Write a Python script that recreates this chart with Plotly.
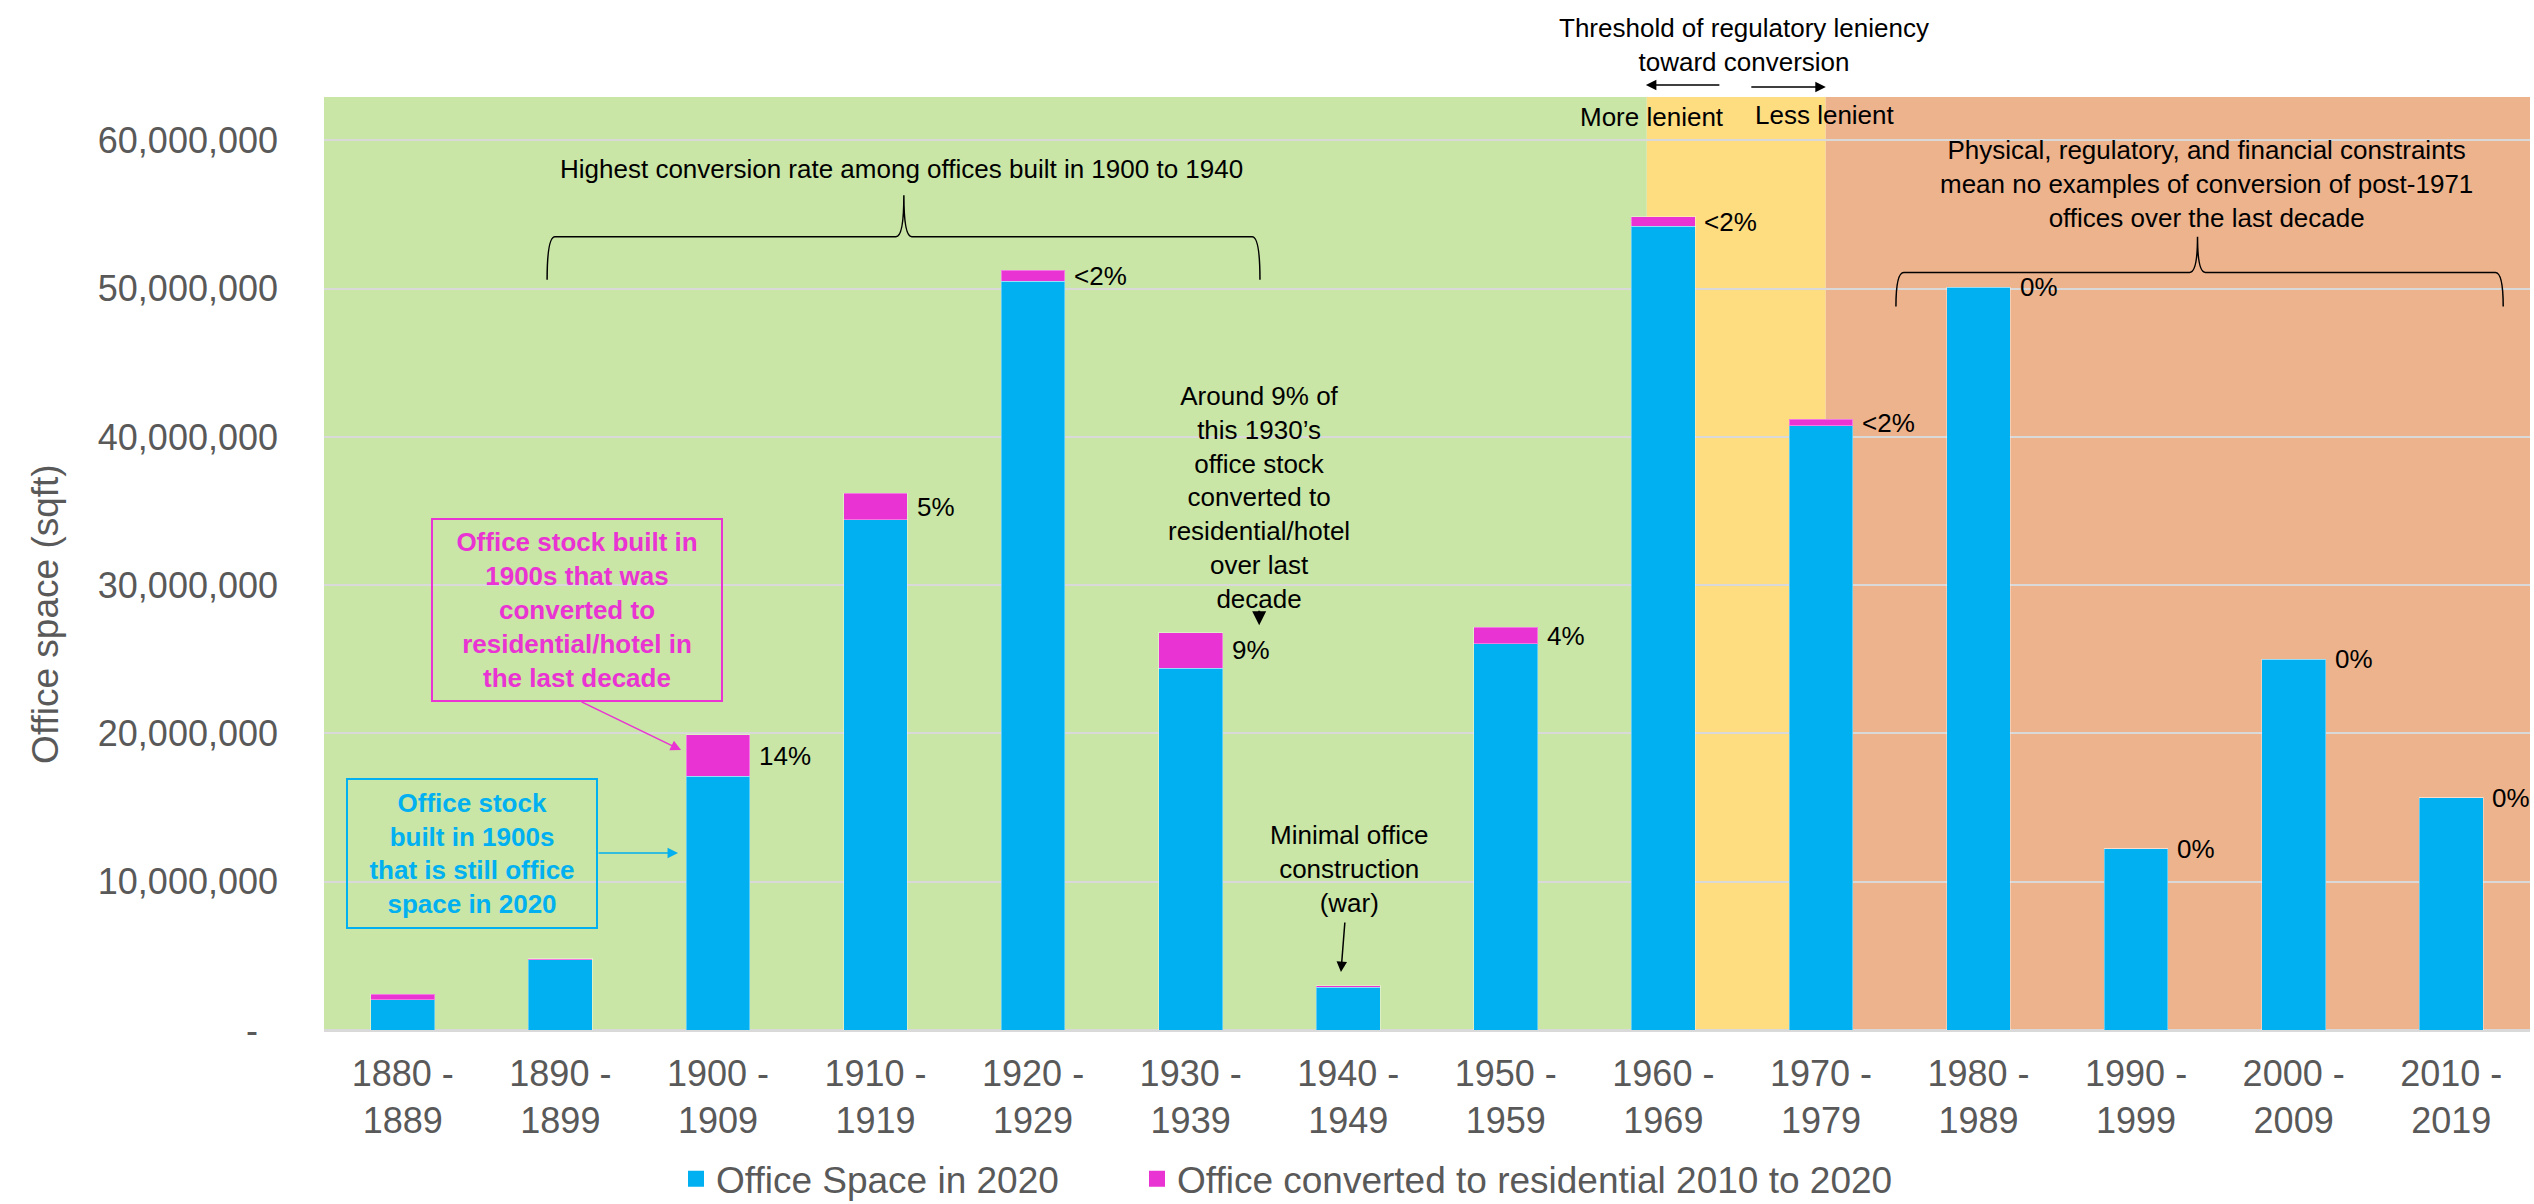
import plotly.graph_objects as go

# ---------------- data ----------------
start_years = ["1880", "1890", "1900", "1910", "1920", "1930", "1940",
               "1950", "1960", "1970", "1980", "1990", "2000", "2010"]
end_years = ["1889", "1899", "1909", "1919", "1929", "1939", "1949",
             "1959", "1969", "1979", "1989", "1999", "2009", "2019"]
office_2020 = [2.05e6, 4.75e6, 17.1e6, 34.4e6, 50.5e6, 24.4e6, 2.9e6,
               26.05e6, 54.2e6, 40.75e6, 50.1e6, 12.24e6, 25.0e6, 15.67e6]
converted = [0.37e6, 0.05e6, 2.8e6, 1.8e6, 0.75e6, 2.4e6, 0.07e6,
             1.1e6, 0.65e6, 0.45e6, 0, 0, 0, 0]
pct_labels = ["", "", "14%", "5%", "<2%", "9%", "", "4%", "<2%", "<2%",
              "0%", "0%", "0%", "0%"]
y_tickvals = [0, 10e6, 20e6, 30e6, 40e6, 50e6, 60e6]
y_ticktext = ["-\u00a0\u00a0", "10,000,000", "20,000,000", "30,000,000",
              "40,000,000", "50,000,000", "60,000,000"]

# ---------------- styles ----------------
BLUE = "#00B0F0"
PINK = "#E933D2"
GREEN = "#C9E6A6"
YELLOW = "#FEDC80"
ORANGE = "#EDB38C"
GRAY = "#595959"
FONT = "Liberation Sans, Arial, sans-serif"
ANN = dict(family=FONT, size=26, color="black")
PLOT_L, PLOT_W = 324, 2206
EDGE = dict(width=1, color="rgba(255,255,255,0.35)")

xpos = list(range(len(start_years)))
xlabels = [f"{a} -<br>{b}" for a, b in zip(start_years, end_years)]

fig = go.Figure()
fig.add_trace(go.Bar(x=xpos, y=office_2020, name="Office Space in 2020",
                     marker=dict(color=BLUE, line=EDGE), width=0.405,
                     showlegend=False))
fig.add_trace(go.Bar(x=xpos, y=converted,
                     name="Office converted to residential 2010 to 2020",
                     marker=dict(color=PINK, line=EDGE), width=0.405,
                     showlegend=False))
# legend entries (square swatches)
fig.add_trace(go.Scatter(x=[None], y=[None], mode="markers", name="Office Space in 2020",
                         marker=dict(symbol="square", size=16, color=BLUE),
                         legend="legend"))
fig.add_trace(go.Scatter(x=[None], y=[None], mode="markers",
                         name="Office converted to residential 2010 to 2020",
                         marker=dict(symbol="square", size=16, color=PINK),
                         legend="legend2"))

# percentage labels to the right of each bar (middle of the converted segment)
for i, lab in enumerate(pct_labels):
    if lab:
        fig.add_annotation(x=xpos[i], y=office_2020[i] + converted[i] / 2,
                           text=lab, showarrow=False, xanchor="left",
                           yanchor="middle", xshift=39, font=ANN)

# background zones
fig.add_shape(type="rect", xref="x", yref="paper", x0=-0.5, x1=7.895, y0=0, y1=1,
              fillcolor=GREEN, line_width=0, layer="below")
fig.add_shape(type="rect", xref="x", yref="paper", x0=7.895, x1=9.03, y0=0, y1=1,
              fillcolor=YELLOW, line_width=0, layer="below")
fig.add_shape(type="rect", xref="x", yref="paper", x0=9.03, x1=13.5, y0=0, y1=1,
              fillcolor=ORANGE, line_width=0, layer="below")


def brace(xl, xm, xr, yb, yh, yt):
    dx = 0.05
    return (f"M {xl},{yb} Q {xl},{yh} {xl+dx},{yh} L {xm-dx},{yh} "
            f"Q {xm},{yh} {xm},{yt} Q {xm},{yh} {xm+dx},{yh} "
            f"L {xr-dx},{yh} Q {xr},{yh} {xr},{yb}")


fig.add_shape(type="path", xref="x", yref="y",
              path=brace(0.916, 3.18, 5.44, 50.6e6, 53.5e6, 56.3e6),
              line=dict(color="black", width=1.5))
fig.add_shape(type="path", xref="x", yref="y",
              path=brace(9.476, 11.39, 13.33, 48.8e6, 51.1e6, 53.5e6),
              line=dict(color="black", width=1.5))

# text annotations
fig.add_annotation(x=3.163, y=58.1e6, showarrow=False, font=ANN,
                   text="Highest conversion rate among offices built in 1900 to 1940")
fig.add_annotation(x=11.449, y=57.05e6, showarrow=False, font=ANN,
                   text="Physical, regulatory, and financial constraints<br>"
                        "mean no examples of conversion of post-1971<br>"
                        "offices over the last decade")
fig.add_annotation(x=5.435, y=35.9e6, showarrow=False, font=ANN,
                   text="Around 9% of<br>this 1930\u2019s<br>office stock<br>converted to<br>"
                        "residential/hotel<br>over last<br>decade")
fig.add_annotation(x=5.435, y=27.3e6, text="", showarrow=True, ax=0, ay=-16,
                   arrowhead=2, arrowsize=1.4, arrowwidth=2, arrowcolor="black")
fig.add_annotation(x=6.005, y=10.86e6, showarrow=False, font=ANN,
                   text="Minimal office<br>construction<br>(war)")
fig.add_annotation(x=5.954, y=3.91e6, text="", showarrow=True, ax=4, ay=-51,
                   arrowhead=2, arrowsize=1.4, arrowwidth=1.5, arrowcolor="black")

# threshold annotations above the plot
fig.add_annotation(x=8.511, y=1.056, yref="paper", xanchor="center", yanchor="middle",
                   showarrow=False, font=ANN,
                   text="Threshold of regulatory leniency<br>toward conversion")
fig.add_annotation(x=7.889, y=1.0129, yref="paper", text="", showarrow=True,
                   ax=75, ay=0, arrowhead=2, arrowsize=1.4, arrowwidth=1.5,
                   arrowcolor="black")
fig.add_annotation(x=9.031, y=1.0107, yref="paper", text="", showarrow=True,
                   ax=-76, ay=0, arrowhead=2, arrowsize=1.4, arrowwidth=1.5,
                   arrowcolor="black")
fig.add_annotation(x=7.927, y=0.979, yref="paper", xanchor="center", yanchor="middle",
                   showarrow=False, font=ANN, text="More lenient")
fig.add_annotation(x=9.026, y=0.981, yref="paper", xanchor="center", yanchor="middle",
                   showarrow=False, font=ANN, text="Less lenient")

# callout boxes
fig.add_annotation(x=1.107, y=28.3e6, showarrow=False,
                   font=dict(family=FONT, size=26, color=PINK),
                   text="<b>Office stock built in<br>1900s that was<br>converted to<br>"
                        "residential/hotel in<br>the last decade</b>",
                   bordercolor=PINK, borderwidth=2, borderpad=1, width=286, height=178)
fig.add_annotation(x=1.766, y=18.88e6, text="", showarrow=True, ax=-101, ay=-49,
                   arrowhead=2, arrowsize=1.4, arrowwidth=1.5, arrowcolor=PINK)
fig.add_annotation(x=0.442, y=11.9e6, showarrow=False,
                   font=dict(family=FONT, size=26, color=BLUE),
                   text="<b>Office stock<br>built in 1900s<br>that is still office<br>space in 2020</b>",
                   bordercolor=BLUE, borderwidth=2, borderpad=1, width=246, height=145)
fig.add_annotation(x=1.747, y=11.94e6, text="", showarrow=True, ax=-81, ay=0,
                   arrowhead=2, arrowsize=1.4, arrowwidth=1.5, arrowcolor=BLUE)

# y-axis title
fig.add_annotation(x=(46 - PLOT_L) / PLOT_W, y=0.446, xref="paper", yref="paper",
                   xanchor="center", yanchor="middle", showarrow=False,
                   textangle=-90, text="Office space (sqft)",
                   font=dict(family=FONT, size=37, color=GRAY))

legend_common = dict(orientation="h", xanchor="left", y=-0.16, yanchor="middle",
                     font=dict(family=FONT, size=37, color=GRAY), itemwidth=30,
                     bgcolor="rgba(0,0,0,0)")
fig.update_layout(
    width=2534, height=1204,
    margin=dict(l=PLOT_L, r=4, t=97, b=174, autoexpand=False),
    barmode="stack", bargap=0.595,
    plot_bgcolor="white", paper_bgcolor="white",
    font=dict(family=FONT, size=36, color=GRAY),
    showlegend=True,
    legend=dict(x=(676 - PLOT_L) / PLOT_W, **legend_common),
    legend2=dict(x=(1137 - PLOT_L) / PLOT_W, **legend_common),
)
fig.update_xaxes(range=[-0.5, 13.5], tickvals=xpos, ticktext=xlabels,
                 showgrid=False, zeroline=False, showline=False,
                 tickfont=dict(family=FONT, size=36, color=GRAY),
                 ticks="", ticklabelstandoff=19)
fig.update_yaxes(range=[0, 62.93e6], tickvals=y_tickvals, ticktext=y_ticktext,
                 showgrid=True, gridcolor="#D9D9D9", gridwidth=2,
                 zeroline=True, zerolinecolor="#D9D9D9", zerolinewidth=3,
                 showline=False, ticks="", ticklabelstandoff=45,
                 tickfont=dict(family=FONT, size=36, color=GRAY))

fig.write_html("out.html", config={"displayModeBar": False},
               post_script="document.body.style.margin='0';document.body.style.padding='0';")
